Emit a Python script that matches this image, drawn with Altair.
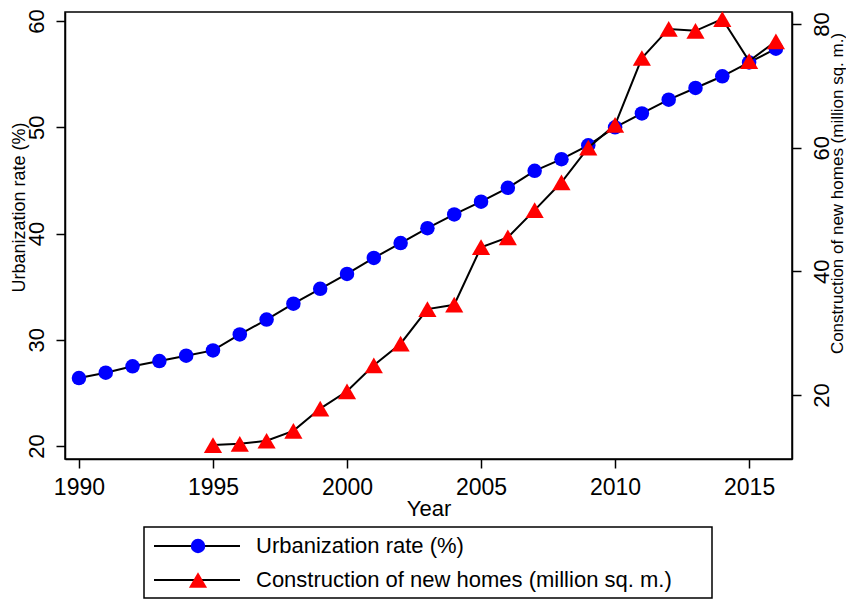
import altair as alt
import pandas as pd

# ---- data ----
years = list(range(1990, 2017))
urban = [26.4, 26.9, 27.5, 28.0, 28.5, 29.0, 30.5, 31.9, 33.4, 34.8, 36.2, 37.7, 39.1,
         40.5, 41.8, 43.0, 44.3, 45.9, 47.0, 48.3, 50.0, 51.3, 52.6, 53.7, 54.8, 56.1, 57.4]
cons_years = list(range(1995, 2017))
cons = [11.9, 12.1, 12.6, 14.2, 17.8, 20.6, 24.8, 28.3, 33.9, 34.6, 43.9, 45.5, 49.9,
        54.4, 60.0, 63.7, 74.5, 79.2, 78.9, 80.8, 74.0, 77.2]
urban_label = "Urbanization rate (%)"
cons_label = "Construction of new homes (million sq. m.)"
x_ticks = [1990, 1995, 2000, 2005, 2010, 2015]
left_ticks = [20, 30, 40, 50, 60]
right_ticks = [20, 40, 60, 80]
series_domain = [urban_label, cons_label]
marker_codes = ["u", "c"]

df_u = pd.DataFrame({"year": years, "value": urban, "series": urban_label, "marker": "u"})
df_c = pd.DataFrame({"year": cons_years, "value": cons, "series": cons_label, "marker": "c"})

FONT = "Liberation Sans"

# legend: black line segment (with labels) overlaid by a marker-only legend
line_legend = alt.Legend(
    title=None, orient="none", legendX=121, legendY=523, padding=0,
    symbolType="M-4.3,0L4.3,0", symbolSize=400, symbolStrokeWidth=2,
    labelFontSize=22, labelFont=FONT, labelColor="black", labelOffset=48,
    rowPadding=12, labelLimit=0,
)
marker_legend = alt.Legend(
    title=None, orient="none", legendX=122, legendY=523, padding=0,
    labelExpr="''", labelFontSize=22, rowPadding=12, symbolStrokeWidth=0,
    symbolOpacity=1,
)

stroke_enc = alt.Stroke("series:N", scale=alt.Scale(domain=series_domain, range=["black", "black"]),
                        legend=line_legend)
color_enc = alt.Color("marker:N", scale=alt.Scale(domain=marker_codes, range=["#0000ff", "#ff0000"]),
                      legend=marker_legend)
shape_enc = alt.Shape("marker:N", scale=alt.Scale(domain=marker_codes, range=["circle", "triangle-up"]),
                      legend=marker_legend)
size_enc = alt.Size("marker:N", scale=alt.Scale(domain=marker_codes, range=[210, 330]),
                    legend=marker_legend)

x_enc = alt.X("year:Q", scale=alt.Scale(domain=[1989.48, 2016.6], nice=False, zero=False),
              axis=alt.Axis(values=x_ticks, format="d", title="Year", labelFontSize=23,
                            labelPadding=8, titleFontSize=22, titleBaseline="alphabetic",
                            titleY=56))

y_left = alt.Y("value:Q", scale=alt.Scale(domain=[18.78, 60.85], nice=False, zero=False),
               axis=alt.Axis(values=left_ticks, orient="left", title=urban_label,
                             labelAngle=270, labelAlign="center", labelBaseline="middle",
                             labelPadding=20, labelFontSize=22,
                             titleAngle=270, titleX=-46, titleY=195, titleAlign="center",
                             titleBaseline="middle", titleFontSize=18))
y_right = alt.Y("value:Q", scale=alt.Scale(domain=[9.65, 81.94], nice=False, zero=False),
                axis=alt.Axis(values=right_ticks, orient="right", title=cons_label,
                              labelAngle=270, labelAlign="center", labelBaseline="middle",
                              labelPadding=20, labelFontSize=22,
                              titleAngle=270, titleX=45, titleY=181, titleAlign="center",
                              titleBaseline="middle", titleFontSize=17))

line_u = alt.Chart(df_u).mark_line(strokeWidth=2).encode(x=x_enc, y=y_left, stroke=stroke_enc)
pts_u = alt.Chart(df_u).mark_point(filled=True, opacity=1, strokeWidth=0).encode(
    x=x_enc, y=y_left, color=color_enc, shape=shape_enc, size=size_enc)
line_c = alt.Chart(df_c).mark_line(strokeWidth=2).encode(x=x_enc, y=y_right, stroke=stroke_enc)
pts_c = alt.Chart(df_c).mark_point(filled=True, opacity=1, strokeWidth=0).encode(
    x=x_enc, y=y_right, color=color_enc, shape=shape_enc, size=size_enc)

box = alt.Chart(pd.DataFrame({"k": [0]})).mark_rect(
    fillOpacity=0, stroke="black", strokeWidth=1.5).encode(
    x=alt.value(79), x2=alt.value(647), y=alt.value(515), y2=alt.value(586))

chart = alt.layer(
    alt.layer(line_u, pts_u),
    alt.layer(line_c, pts_c),
    box,
).resolve_scale(y="independent").properties(
    width=727, height=447,
    padding={"left": 57, "top": 4, "right": 54, "bottom": 140},
    autosize=alt.AutoSizeParams(type="none"),
).configure_view(
    stroke="black", strokeWidth=1.5
).configure_axis(
    grid=False, labelFont=FONT, titleFont=FONT, labelColor="black", titleColor="black",
    titleFontWeight="normal", domainColor="black", domainWidth=1.5, tickColor="black",
    tickWidth=1.5, tickSize=9,
).configure_legend(
    labelFont=FONT
)

chart.save("out.html", embed_options={"renderer": "svg", "actions": False})
